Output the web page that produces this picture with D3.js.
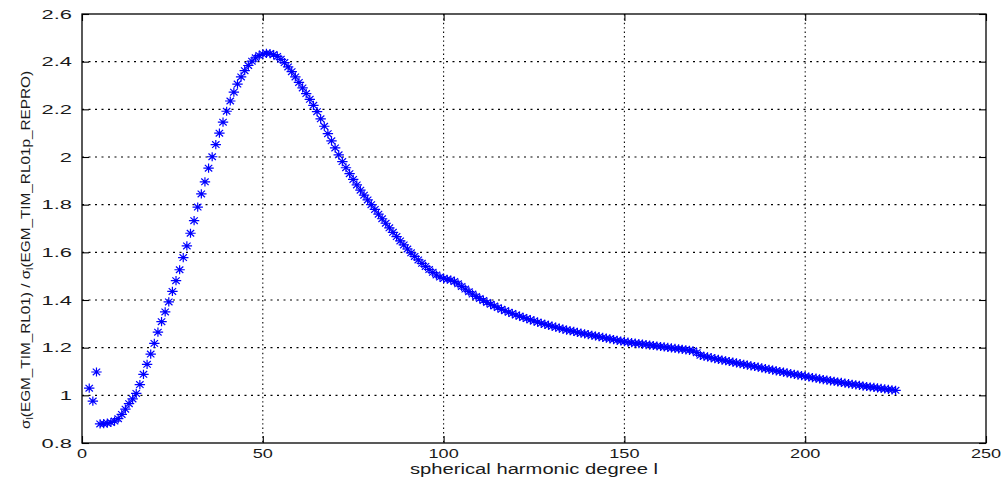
<!DOCTYPE html>
<html>
<head>
<meta charset="utf-8">
<script src="https://cdn.jsdelivr.net/npm/d3@7/dist/d3.min.js"></script>
<style>
  html, body { margin: 0; padding: 0; background: #fff; }
  svg { display: block; }
  text { font-family: "Liberation Sans", Arial, Helvetica, sans-serif; fill: #1a1a1a; }
</style>
</head>
<body>
<svg id="chart" width="1005" height="478"></svg>
<script>
// Ratio of degree standard deviations, EGM_TIM_RL01 over EGM_TIM_RL01p_REPRO
const degrees = d3.range(2, 226);
const ratio = [
  1.030, 0.976, 1.098, 0.880, 0.881, 0.883, 0.886, 0.892, 0.902, 0.920, // 2-11
  0.942, 0.965, 0.985, 1.008, 1.045, 1.088, 1.130, 1.173, 1.218, 1.265, // 12-21
  1.309, 1.350, 1.392, 1.436, 1.481, 1.527, 1.578, 1.627, 1.680, 1.733, // 22-31
  1.790, 1.845, 1.896, 1.953, 2.001, 2.052, 2.100, 2.146, 2.192, 2.235, // 32-41
  2.272, 2.306, 2.336, 2.362, 2.384, 2.402, 2.416, 2.426, 2.432, 2.435, // 42-51
  2.434, 2.430, 2.422, 2.410, 2.396, 2.378, 2.358, 2.336, 2.313, 2.290, // 52-61
  2.266, 2.242, 2.217, 2.190, 2.160, 2.129, 2.098, 2.068, 2.038, 2.009, // 62-71
  1.981, 1.955, 1.930, 1.906, 1.883, 1.861, 1.840, 1.820, 1.800, 1.780, // 72-81
  1.760, 1.741, 1.722, 1.703, 1.684, 1.666, 1.648, 1.631, 1.614, 1.598, // 82-91
  1.583, 1.568, 1.554, 1.541, 1.528, 1.516, 1.505, 1.496, 1.490, 1.487, // 92-101
  1.484, 1.478, 1.468, 1.457, 1.446, 1.435, 1.425, 1.415, 1.406, 1.398, // 102-111
  1.390, 1.382, 1.375, 1.368, 1.361, 1.355, 1.349, 1.343, 1.337, 1.332, // 112-121
  1.327, 1.322, 1.317, 1.312, 1.307, 1.302, 1.298, 1.294, 1.290, 1.286, // 122-131
  1.282, 1.278, 1.274, 1.271, 1.268, 1.264, 1.261, 1.258, 1.255, 1.252, // 132-141
  1.249, 1.246, 1.243, 1.240, 1.237, 1.234, 1.231, 1.228, 1.225, 1.223, // 142-151
  1.221, 1.219, 1.217, 1.215, 1.213, 1.211, 1.209, 1.207, 1.205, 1.203, // 152-161
  1.201, 1.199, 1.197, 1.195, 1.193, 1.191, 1.189, 1.187, 1.179, 1.168, // 162-171
  1.164, 1.161, 1.158, 1.154, 1.151, 1.148, 1.145, 1.142, 1.139, 1.136, // 172-181
  1.133, 1.130, 1.127, 1.124, 1.121, 1.118, 1.115, 1.112, 1.109, 1.106, // 182-191
  1.103, 1.100, 1.097, 1.094, 1.091, 1.088, 1.085, 1.083, 1.080, 1.077, // 192-201
  1.074, 1.072, 1.069, 1.066, 1.064, 1.061, 1.059, 1.056, 1.054, 1.051, // 202-211
  1.049, 1.046, 1.044, 1.042, 1.039, 1.037, 1.035, 1.033, 1.031, 1.029, // 212-221
  1.027, 1.025, 1.023, 1.021                                             // 222-225
];
const xTicks = [0, 50, 100, 150, 200, 250];
const yTicks = [0.8, 1.0, 1.2, 1.4, 1.6, 1.8, 2.0, 2.2, 2.4, 2.6];
const xTickLabels = ["0", "50", "100", "150", "200", "250"];
const yTickLabels = ["0.8", "1", "1.2", "1.4", "1.6", "1.8", "2", "2.2", "2.4", "2.6"];

const svg = d3.select("#chart");
const plotLeft = 82, plotRight = 986, plotTop = 14, plotBottom = 443;

const x = d3.scaleLinear().domain([0, 250]).range([plotLeft, plotRight]);
const y = d3.scaleLinear().domain([0.8, 2.6]).range([plotBottom, plotTop]);

// dotted grid
const grid = svg.append("g").attr("stroke", "#000").attr("stroke-width", 1.1).attr("fill", "none");
grid.selectAll("line.h").data(yTicks.slice(1, -1)).join("line")
  .attr("class", "h")
  .attr("x1", plotLeft).attr("x2", plotRight)
  .attr("y1", d => y(d)).attr("y2", d => y(d))
  .attr("stroke-dasharray", "2,4.5");
grid.selectAll("line.v").data(xTicks.slice(1, -1)).join("line")
  .attr("class", "v")
  .attr("y1", plotTop).attr("y2", plotBottom)
  .attr("x1", d => x(d)).attr("x2", d => x(d))
  .attr("stroke-dasharray", "1.4,3");

// inward ticks on all four sides
const tickLen = 7;
function styleAxis(g) {
  g.select(".domain").remove();
  g.selectAll(".tick line").attr("stroke", "#000").attr("stroke-width", 1.1);
  g.selectAll(".tick text").remove();
}
svg.append("g").attr("transform", `translate(0,${plotBottom})`)
  .call(d3.axisBottom(x).tickValues(xTicks).tickSize(-tickLen)).call(styleAxis);
svg.append("g").attr("transform", `translate(0,${plotTop})`)
  .call(d3.axisTop(x).tickValues(xTicks).tickSize(-tickLen)).call(styleAxis);
svg.append("g").attr("transform", `translate(${plotLeft},0)`)
  .call(d3.axisLeft(y).tickValues(yTicks).tickSize(-tickLen)).call(styleAxis);
svg.append("g").attr("transform", `translate(${plotRight},0)`)
  .call(d3.axisRight(y).tickValues(yTicks).tickSize(-tickLen)).call(styleAxis);

// frame
svg.append("rect")
  .attr("x", plotLeft).attr("y", plotTop)
  .attr("width", plotRight - plotLeft).attr("height", plotBottom - plotTop)
  .attr("fill", "none").attr("stroke", "#000").attr("stroke-width", 1.3);

// tick labels (wide lettering)
svg.append("g").selectAll("g").data(xTicks).join("g")
  .attr("transform", d => `translate(${x(d)},458) scale(1.45,1)`)
  .append("text")
  .attr("text-anchor", "middle")
  .attr("font-size", 12.5)
  .text((d, i) => xTickLabels[i]);
svg.append("g").selectAll("g").data(yTicks).join("g")
  .attr("transform", d => `translate(72,${y(d) + 4.5}) scale(1.75,1)`)
  .append("text")
  .attr("text-anchor", "end")
  .attr("font-size", 12.5)
  .text((d, i) => yTickLabels[i]);

// axis titles
svg.append("text")
  .attr("x", (plotLeft + plotRight) / 2).attr("y", 473.5)
  .attr("text-anchor", "middle")
  .attr("font-size", 14)
  .attr("textLength", 248).attr("lengthAdjust", "spacingAndGlyphs")
  .text("spherical harmonic degree l");

const yl = svg.append("text")
  .attr("transform", "translate(30,250) rotate(-90)")
  .attr("text-anchor", "middle")
  .attr("font-size", 13)
  .attr("textLength", 358).attr("lengthAdjust", "spacingAndGlyphs");
yl.append("tspan").text("σ");
yl.append("tspan").attr("font-size", 9).attr("dy", 3).text("l");
yl.append("tspan").attr("dy", -3).text("(EGM_TIM_RL01) / σ");
yl.append("tspan").attr("font-size", 9).attr("dy", 3).text("l");
yl.append("tspan").attr("dy", -3).text("(EGM_TIM_RL01p_REPRO)");

// asterisk markers
const star = "M-5.2,0H5.2M0,-4.6V4.6M-3.7,-3.3L3.7,3.3M-3.7,3.3L3.7,-3.3";
svg.append("g").selectAll("path").data(degrees).join("path")
  .attr("transform", (d, i) => `translate(${x(d)},${y(ratio[i])})`)
  .attr("d", star)
  .attr("fill", "none")
  .attr("stroke", "#0000ff")
  .attr("stroke-width", 1.2);
</script>
</body>
</html>
